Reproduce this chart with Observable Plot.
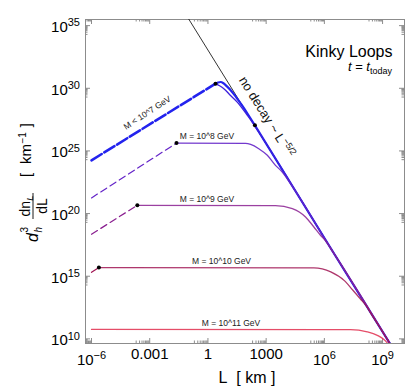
<!DOCTYPE html>
<html><head><meta charset="utf-8">
<script src="https://cdn.jsdelivr.net/npm/d3@7"></script>
<script src="https://cdn.jsdelivr.net/npm/@observablehq/plot@0.6"></script>
<style>body{margin:0;background:#fff} svg{display:block}</style>
</head><body><div id="chart"></div>
<script>
// ---- data: log10(L [km]) and log10(d_h^3 dn/dL [km^-1]) ----
const noDecayLogL = [-1.0, 9.39];
const noDecayLogN = [35.55, 9.6];

const limitDashLogL = [-6, 0.39];
const limitDashLogN = [24.25, 30.37];
const limitLogL = [0.39, 0.52, 0.65, 0.80, 0.98, 1.17, 1.45, 1.75, 2.1, 2.42, 6.0, 9.39];
const limitLogN = [30.37, 30.46, 30.50, 30.40, 30.15, 29.85, 29.3, 28.65, 27.83, 27.04, 18.05, 9.6];

const m7LogL = [0.39, 0.6, 0.82, 1.15, 1.51, 2.03, 2.28, 2.6, 6.0, 9.39];
const m7LogN = [30.37, 30.2, 29.97, 29.45, 28.9, 27.84, 27.3, 26.55, 18.05, 9.6];

const m8DashLogL = [-6, -1.62];
const m8DashLogN = [21.25, 25.63];
const m8LogL = [-1.62, 1.94, 2.2, 2.62, 3.06, 3.48, 3.83, 4.43, 6.0, 9.39];
const m8LogN = [25.63, 25.6, 25.52, 25.18, 24.65, 23.85, 23.32, 21.97, 18.05, 9.6];

const m9DashLogL = [-6, -3.64];
const m9DashLogN = [18.35, 20.66];
const m9LogL = [-3.64, 3.48, 4.35, 5.03, 5.46, 5.8, 6.06, 6.5, 9.39];
const m9LogN = [20.66, 20.64, 20.4, 19.73, 18.93, 18.27, 17.82, 16.8, 9.6];

const m10DashLogL = [-6, -5.62];
const m10DashLogN = [15.31, 15.69];
const m10LogL = [-5.62, 5.46, 6.33, 7.03, 7.46, 7.85, 8.15, 8.45, 8.8, 9.39];
const m10LogN = [15.69, 15.67, 15.35, 14.65, 13.9, 13.2, 12.65, 11.9, 11.05, 9.6];

const m11LogL = [-6, 7.35, 8.21, 8.73, 9.07, 9.24, 9.35];
const m11LogN = [10.75, 10.74, 10.56, 10.28, 9.95, 9.68, 9.45];

const dotLogL = [0.39, -1.62, -3.64, -5.62, 2.42];
const dotLogN = [30.37, 25.63, 20.66, 15.69, 27.04];

const massLabels = ["M = 10^8 GeV", "M = 10^9 GeV", "M = 10^10 GeV", "M = 10^11 GeV"];
const massLabelLogL = [-0.05, -0.05, 0.70, 1.19];
const massLabelLogN = [25.63, 20.66, 15.69, 10.75];

const limitLabel = "M < 10^7 GeV";
const limitLabelLogL = -3.13, limitLabelLogN = 28.04;
const noDecayLabelLogL = 1.603, noDecayLabelLogN = 30.63;

const xTickExp = [-6, -3, 0, 3, 6, 9];
const xTickLabels = ["10^\u22126", "0.001", "1", "1000", "10^6", "10^9"];
const yTickExp = [10, 15, 20, 25, 30, 35];
const yTickLabels = ["10^10", "10^15", "10^20", "10^25", "10^30", "10^35"];
const minorMult = [2, 3, 4, 5, 6, 7, 8, 9];

const xDomainExp = [-6.31, 10.13];
const yDomainExp = [9.63, 35.49];

// ---- layout / style ----
const W = 413, H = 391, mL = 85, mR = 9, mT = 19, mB = 48;
const fW = W - mL - mR, fH = H - mT - mB;
const frameColor = "#8c8c8c";
const FONT = "'Liberation Sans', Arial, sans-serif";

const pts = (lx, ly) => lx.map((v, i) => ({L: 10 ** v, n: 10 ** ly[i]}));
const inX = v => v >= 10 ** xDomainExp[0] && v <= 10 ** xDomainExp[1];
const inY = v => v >= 10 ** yDomainExp[0] && v <= 10 ** yDomainExp[1];
const xMajor = xTickExp.map(e => 10 ** e);
const yMajor = yTickExp.map(e => 10 ** e);
const xMinor = xTickExp.flatMap(e => minorMult.map(m => m * 10 ** (e - 1))).filter(inX);
const yMinor = yTickExp.flatMap(e => minorMult.map(m => m * 10 ** (e - 1))).filter(inY);

const line = (lx, ly, stroke, w, extra = {}) =>
  Plot.line(pts(lx, ly), {x: "L", y: "n", stroke, strokeWidth: w, curve: "monotone-x", clip: true, ...extra});

const cBlue = "#2323ee", c7 = "#3d20dc", c8 = "#6424c8", c9 = "#8a1f90", c10 = "#a01452", c11 = "#e23a58";

const svg = Plot.plot({
  width: W, height: H,
  marginLeft: mL, marginRight: mR, marginTop: mT, marginBottom: mB,
  style: {fontFamily: FONT, fontSize: "15px", background: "white", color: "black"},
  x: {type: "log", domain: xDomainExp.map(e => 10 ** e)},
  y: {type: "log", domain: yDomainExp.map(e => 10 ** e)},
  marks: [
    Plot.frame({stroke: frameColor}),
    Plot.ruleX(xMajor, {stroke: frameColor, insetTop: fH - 5}),
    Plot.ruleX(xMajor, {stroke: frameColor, insetBottom: fH - 5}),
    Plot.ruleX(xMinor, {stroke: frameColor, insetTop: fH - 2.5}),
    Plot.ruleX(xMinor, {stroke: frameColor, insetBottom: fH - 2.5}),
    Plot.ruleY(yMajor, {stroke: frameColor, insetRight: fW - 5}),
    Plot.ruleY(yMajor, {stroke: frameColor, insetLeft: fW - 5}),
    Plot.ruleY(yMinor, {stroke: frameColor, insetRight: fW - 2.5}),
    Plot.ruleY(yMinor, {stroke: frameColor, insetLeft: fW - 2.5}),
    Plot.axisX(xMajor, {tickSize: 0, tickPadding: 5, fontSize: 15, label: null,
      tickFormat: d => xTickLabels[xTickExp.indexOf(Math.round(Math.log10(d)))]}),
    Plot.axisY(yMajor, {tickSize: 0, tickPadding: 5.5, fontSize: 15, label: null,
      tickFormat: d => yTickLabels[yTickExp.indexOf(Math.round(Math.log10(d)))]}),

    line(noDecayLogL, noDecayLogN, "black", 0.8),
    line(limitDashLogL, limitDashLogN, cBlue, 2.6, {strokeDasharray: "12,3"}),
    line(limitLogL, limitLogN, cBlue, 2.2),
    line(m7LogL, m7LogN, c7, 1.3),
    line(m8DashLogL, m8DashLogN, c8, 1.2, {strokeDasharray: "7,4"}),
    line(m8LogL, m8LogN, c8, 1.3, {strokeOpacity: 0.9}),
    line(m9DashLogL, m9DashLogN, c9, 1.2, {strokeDasharray: "7,4"}),
    line(m9LogL, m9LogN, c9, 1.3, {strokeOpacity: 0.85}),
    line(m10DashLogL, m10DashLogN, c10, 1.2, {strokeDasharray: "7,4"}),
    line(m10LogL, m10LogN, c10, 1.3, {strokeOpacity: 0.85}),
    line(m11LogL, m11LogN, c11, 1.3, {strokeOpacity: 0.9}),

    Plot.dot(pts(dotLogL, dotLogN), {x: "L", y: "n", r: 2, fill: "black"}),

    Plot.text(massLabels, {x: (d, i) => 10 ** massLabelLogL[i], y: (d, i) => 10 ** massLabelLogN[i],
      text: d => d, fontSize: 8.5, fill: "#222", dy: -6.5}),
    Plot.text([limitLabel], {x: () => 10 ** limitLabelLogL, y: () => 10 ** limitLabelLogN,
      text: d => d, fontSize: 8.5, fill: "#222", rotate: -33}),
    Plot.text(["Kinky Loops"], {frameAnchor: "top-right", dx: -12, dy: 26, fontSize: 16, textAnchor: "end"}),
    Plot.text(["L\u00A0\u00A0[ km ]"], {frameAnchor: "bottom", dx: 2, dy: 39, fontSize: 16})
  ]
});

const s = d3.select(svg);
const sx = svg.scale("x"), sy = svg.scale("y");
const xr = sx.range, yr = sy.range;
const fTop = Math.min(...yr), fBot = Math.max(...yr), fRight = Math.max(...xr);

// superscripts in tick labels
s.selectAll('g[aria-label="x-axis tick label"] text, g[aria-label="y-axis tick label"] text').each(function () {
  const t = this.textContent;
  if (!t.includes("^")) return;
  const [base, sup] = t.split("^");
  const isX = this.parentNode.getAttribute("aria-label").startsWith("x");
  const el = d3.select(this);
  el.text("");
  el.append("tspan").attr("dy", isX ? 5.5 : 1.5).text(base);
  el.append("tspan").attr("dy", isX ? -6 : -5.5).attr("font-size", 11).text(sup);
});

// no decay label
const nd = s.append("text")
  .attr("transform", `translate(${sx.apply(10 ** noDecayLabelLogL)},${sy.apply(10 ** noDecayLabelLogN)}) rotate(58)`)
  .attr("font-size", 13).attr("fill", "#111").attr("text-anchor", "start");
nd.append("tspan").text("no decay ~ L");
nd.append("tspan").attr("dy", -5).attr("font-size", 9).text("\u22125/2");

// t = t_today
const tt = s.append("text").attr("x", fRight - 12).attr("y", fTop + 52)
  .attr("text-anchor", "end").attr("font-size", 13);
tt.append("tspan").attr("font-style", "italic").text("t");
tt.append("tspan").text("\u00A0=\u00A0");
tt.append("tspan").attr("font-style", "italic").text("t");
tt.append("tspan").attr("font-size", 9).attr("dy", 2.5).text("today");

// y axis label (rotated)
const cy = (fTop + fBot) / 2;
const g = s.append("g").attr("transform", `translate(33,${cy}) rotate(-90)`)
  .attr("fill", "black").attr("text-anchor", "start");
g.append("text").attr("x", -61).attr("y", 5).attr("font-size", 16).attr("font-style", "italic").text("d");
g.append("text").attr("x", -51.5).attr("y", -5).attr("font-size", 10).text("3");
g.append("text").attr("x", -51.5).attr("y", 9).attr("font-size", 10).attr("font-style", "italic").text("h");
const num = g.append("text").attr("x", -25).attr("y", -3.5).attr("font-size", 14).attr("text-anchor", "middle");
num.append("tspan").text("dn");
num.append("tspan").attr("dy", 3).attr("font-size", 9.5).attr("font-style", "italic").text("L");
g.append("line").attr("x1", -38).attr("x2", -12).attr("y1", 0).attr("y2", 0).attr("stroke", "black").attr("stroke-width", 0.9);
g.append("text").attr("x", -25).attr("y", 14).attr("font-size", 14).attr("text-anchor", "middle").text("dL");
g.append("text").attr("x", 4).attr("y", -2.5).attr("font-size", 15).text("[");
g.append("text").attr("x", 17).attr("y", -2.5).attr("font-size", 15).text("km");
g.append("text").attr("x", 37.5).attr("y", -7.5).attr("font-size", 10).text("\u22121");
g.append("text").attr("x", 58).attr("y", -2.5).attr("font-size", 15).attr("text-anchor", "end").text("]");

document.getElementById("chart").appendChild(svg);
</script>
</body></html>
